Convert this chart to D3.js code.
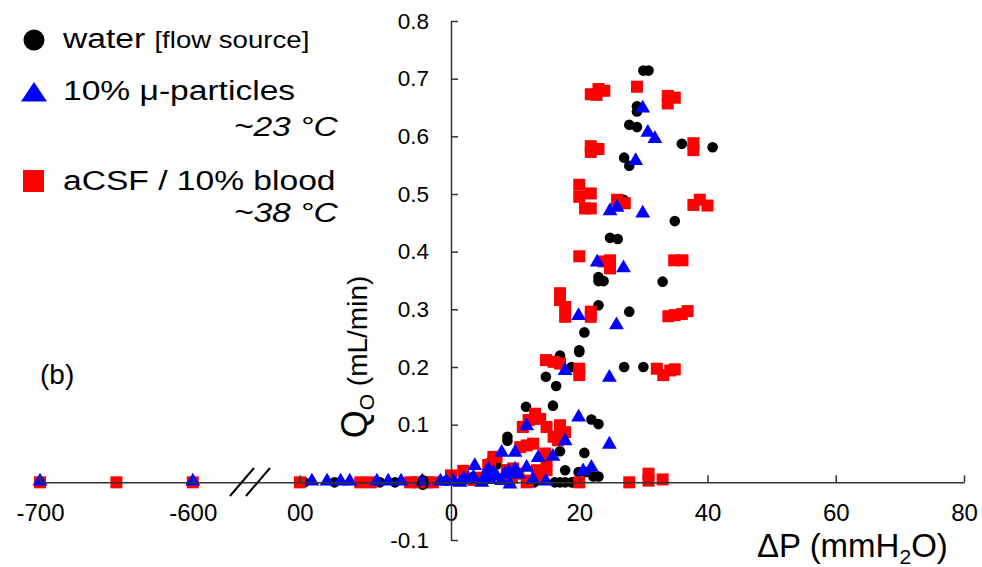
<!DOCTYPE html>
<meta charset="utf-8">
<body style="margin:0;background:#fff">
<script src="https://cdn.jsdelivr.net/npm/d3@7"></script>
<script>
// ΔP (mmH2O), Qo (mL/min)
var water = [
  [30.0,0.714],[30.8,0.714],[29.0,0.652],[29.0,0.643],[27.8,0.620],[29.0,0.616],
  [36.0,0.587],[40.8,0.581],[27.0,0.563],[27.8,0.549],[26.9,0.490],[34.9,0.453],
  [24.8,0.424],[26.0,0.422],[23.0,0.356],[23.8,0.349],[23.0,0.349],[33.0,0.348],
  [23.0,0.307],[27.8,0.296],[20.8,0.260],[20.0,0.229],[17.0,0.220],[20.0,0.226],
  [18.8,0.200],[14.8,0.183],[16.4,0.167],[27.0,0.200],[30.0,0.200],
  [11.7,0.131],[15.9,0.133],[21.9,0.109],[23.0,0.101],[8.8,0.072],[8.8,0.079],
  [6.1,0.035],[7.1,0.031],[17.0,0.054],[20.8,0.051],
  [17.8,0.021],[19.9,0.018],[21.0,0.018],[22.2,0.010],[23.0,0.010],
  [16.2,0],[17.0,0],[17.8,0],[18.8,0],[19.1,0],[13.0,0],
  [2.0,0.004],[3.5,0.010],[5.5,0.015],[-3,0.003],
  [-97,0],[-77,0],[-47,0],[-37,0]
];
var particles = [
  [29.9,0.647],[30.7,0.605],[31.8,0.594],[28.8,0.556],[24.8,0.469],[25.9,0.475],
  [29.9,0.465],[22.8,0.380],[26.9,0.370],[19.9,0.287],[25.8,0.271],[17.8,0.192],
  [24.7,0.180],[19.9,0.111],[11.8,0.096],[17.8,0.070],[24.7,0.064],
  [7.9,0.050],[10.0,0.050],[13.6,0.041],[15.9,0.043],[20.6,0.018],[21.9,0.024],
  [3.7,0.027],[5.8,0.021],[10.0,0.021],[11.8,0.024],[12.8,0.003],[14.8,0],[9.2,-0.005],
  [0.4,0],[1.4,-0.002],[2.7,0.003],[3.5,0.007],[4.8,-0.002],[6.1,0.003],[7.1,0.009],
  [7.9,0.001],[8.4,0.012],[10.5,0.012],[2.0,0.005],[5.3,0.008],[6.6,0.015],[9.0,0.016],
  [-92,0],[-82,0],[-73,0],[-67,0],[-49,0],[-41.5,0],[-33,0],[-19,0],[-7,0],[-3,0],
  [-700,0],[-600,0]
];
var blood = [
  [21.8,0.673],[23.0,0.682],[23.9,0.679],[22.7,0.672],[29.0,0.686],
  [33.8,0.670],[33.8,0.657],[34.9,0.667],[21.8,0.583],[21.8,0.573],[23.0,0.578],
  [37.8,0.588],[37.8,0.576],[20.0,0.516],[20.0,0.495],[21.8,0.501],[20.9,0.475],
  [21.8,0.475],[25.9,0.490],[27.1,0.484],[37.8,0.481],[38.8,0.490],[40.0,0.480],
  [20.0,0.392],[24.8,0.385],[24.8,0.371],[23.8,0.383],[34.8,0.385],[36.1,0.385],
  [17.0,0.328],[17.0,0.316],[17.8,0.304],[17.8,0.287],[21.8,0.287],[21.8,0.296],
  [33.9,0.288],[34.9,0.290],[36.0,0.292],[36.9,0.297],
  [14.8,0.212],[16.0,0.209],[17.0,0.206],[20.0,0.197],[20.0,0.186],
  [32.1,0.197],[33.1,0.186],[34.2,0.194],[34.9,0.196],
  [12.1,0.108],[13.1,0.119],[13.9,0.110],[14.9,0.096],[11.2,0.096],
  [17.0,0.099],[17.8,0.087],[16.0,0.079],[16.7,0.073],
  [10.8,0.061],[11.8,0.064],[12.8,0.067],[14.7,0.050],[14.9,0.038],
  [7.1,0.044],[5.8,0.030],[6.1,0.027],[6.6,0.044],[8.7,0.021],[9.7,0.024],[8.9,0.021],
  [13.4,0.021],[14.9,0.021],[1.9,0.020],[0,0.012],[12,0.003],[13.9,0.009],
  [3.5,0.004],[4.5,0.008],[9.5,0.008],[10.5,0.015],
  [11.8,0],[20.0,0],[27.8,0],[30.8,0.015],[30.8,0.003],[33.0,0.005],
  [-100,0],[-60,0],[-53,0],[-27,0],[-22,0],[-16,0],[-12,0],
  [-700,0],[-650,0],[-600,0]
];
var xTicks = [-700, -600, -100, 0, 20, 40, 60, 80];
var xTickLabels = ["-700", "-600", "00", "0", "20", "40", "60", "80"];
var yTicks = [-0.1, 0, 0.1, 0.2, 0.3, 0.4, 0.5, 0.6, 0.7, 0.8];
var yTickLabels = ["-0.1", "0", "0.1", "0.2", "0.3", "0.4", "0.5", "0.6", "0.7", "0.8"];

var svg = d3.select("body").append("svg")
    .attr("width", 982)
    .attr("height", 567)
    .style("font-family", "'Liberation Sans', Arial, sans-serif");

// broken axis: -575..-125 cut out, negative side compressed
var x = d3.scaleLinear()
    .domain([-700, -575, -125, 0, 80])
    .range([40, 231, 262, 451, 964]);
var y = d3.scaleLinear().domain([-0.1, 0.8]).range([540, 21]);

// points: water, then blood, then particles on top
svg.append("g").selectAll("circle")
    .data(water)
  .enter().append("circle")
    .attr("cx", function(d) { return x(d[0]); })
    .attr("cy", function(d) { return y(d[1]); })
    .attr("r", 5.3)
    .attr("fill", "#000");

svg.append("g").selectAll("rect")
    .data(blood)
  .enter().append("rect")
    .attr("x", function(d) { return x(d[0]) - 6; })
    .attr("y", function(d) { return y(d[1]) - 6; })
    .attr("width", 12)
    .attr("height", 12)
    .attr("fill", "#ff0000");

var tri = d3.symbol().type(d3.symbolTriangle).size(95);
svg.append("g").selectAll("path")
    .data(particles)
  .enter().append("path")
    .attr("d", tri)
    .attr("transform", function(d) { return "translate(" + x(d[0]) + "," + (y(d[1]) - 1) + ")"; })
    .attr("fill", "#0000ff");

// axes
var xAxis = svg.append("g")
    .attr("transform", "translate(0," + y(0) + ")")
    .call(d3.axisBottom(x).tickValues(xTicks)
        .tickFormat(function(d, i) { return xTickLabels[i]; })
        .tickSizeInner(-7).tickSizeOuter(0).tickPadding(22));
xAxis.selectAll("text").attr("font-size", 24).attr("fill", "#000").style("font-family", "inherit");
xAxis.selectAll("line,path").attr("stroke", "#333").attr("stroke-width", 1.5);

var yAxis = svg.append("g")
    .attr("transform", "translate(" + x(0) + ",0)")
    .call(d3.axisLeft(y).tickValues(yTicks)
        .tickFormat(function(d, i) { return yTickLabels[i]; })
        .tickSizeInner(-7).tickSizeOuter(0).tickPadding(22));
yAxis.selectAll("text").attr("font-size", 22.5).attr("fill", "#000").style("font-family", "inherit");
yAxis.selectAll("line,path").attr("stroke", "#333").attr("stroke-width", 1.5);

// break marks
[0, 16].forEach(function(o) {
  svg.append("line")
      .attr("x1", 230 + o).attr("y1", 496)
      .attr("x2", 254 + o).attr("y2", 468)
      .attr("stroke", "#000").attr("stroke-width", 2);
});

// axis titles
var xt = svg.append("text").attr("x", 757).attr("y", 557).attr("font-size", 33);
xt.append("tspan").text("ΔP (mmH");
xt.append("tspan").attr("font-size", 21).attr("dy", 7).text("2");
xt.append("tspan").attr("dy", -7).text("O)");

var yt = svg.append("text")
    .attr("transform", "translate(367,357) rotate(-90)")
    .attr("text-anchor", "middle")
    .attr("font-size", 28);
yt.append("tspan").attr("font-size", 36).text("Q");
yt.append("tspan").attr("font-size", 21).attr("dy", 7).text("O");
yt.append("tspan").attr("dy", -7).text(" (mL/min)");

svg.append("text").attr("x", 40).attr("y", 384).attr("font-size", 28).text("(b)");

// legend (text is stretched horizontally in the original)
svg.append("circle").attr("cx", 34).attr("cy", 40).attr("r", 10.5).attr("fill", "#000");
svg.append("path")
    .attr("d", "M34,82L47,101.5L21,101.5Z")
    .attr("fill", "#0000ff");
svg.append("rect").attr("x", 23).attr("y", 170).attr("width", 21).attr("height", 22).attr("fill", "#ff0000");

var leg = svg.append("g")
    .attr("transform", "translate(63,0) scale(1.2,1)")
    .attr("font-size", 28);
var l1 = leg.append("text").attr("x", 0).attr("y", 48);
l1.append("tspan").text("water ");
l1.append("tspan").attr("font-size", 23).text("[flow source]");
leg.append("text").attr("x", 0).attr("y", 100).text("10% μ-particles");
leg.append("text").attr("x", 229).attr("y", 136).attr("text-anchor", "end")
    .style("font-style", "italic").text("~23 °C");
leg.append("text").attr("x", 0).attr("y", 190).text("aCSF / 10% blood");
leg.append("text").attr("x", 229).attr("y", 222).attr("text-anchor", "end")
    .style("font-style", "italic").text("~38 °C");
</script>
</body>
